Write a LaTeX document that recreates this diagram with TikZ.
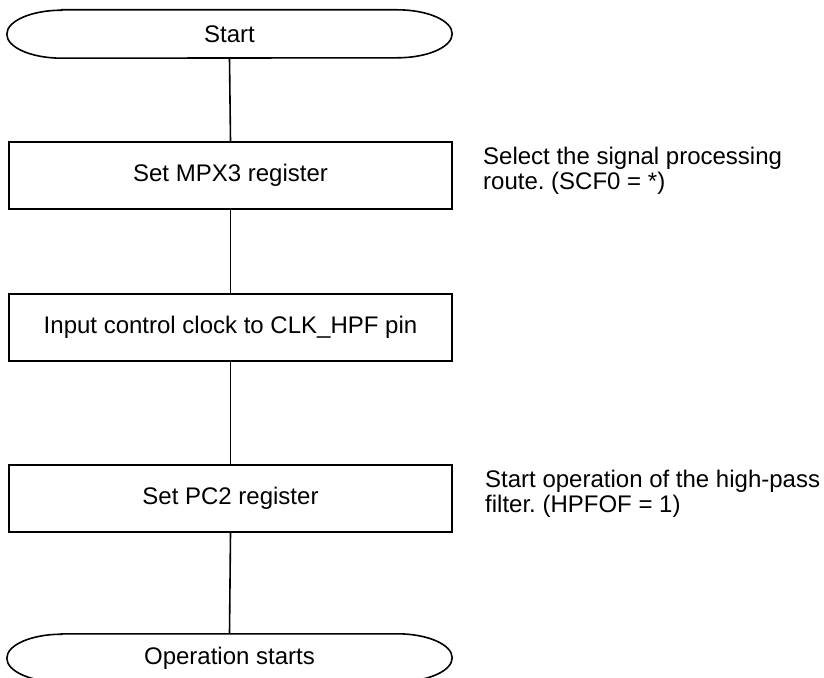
\documentclass[tikz,border=0pt]{standalone}
\usepackage{fontspec}
\setmainfont{Liberation Sans}
\frenchspacing
\begin{document}
\begin{tikzpicture}[x=1pt,y=-1pt,
  every node/.style={font=\fontsize{24}{25}\selectfont},
  lw/.style={line width=1.6pt},
  procbox/.style={draw,lw,minimum width=443pt,minimum height=67pt,inner sep=0pt},
  termbox/.style={minimum width=445pt,minimum height=48pt,inner sep=0pt},
  note/.style={anchor=base west,inner sep=0pt}
]
\useasboundingbox (0,0) rectangle (824,677);
\clip (0,0) rectangle (824,677);
\fill[white] (0,0) rectangle (824,677);

\node[termbox] (start) at (229.5,34) {Start};
\node[procbox] (b1) at (230.5,175.5) {Set MPX3 register};
\node[procbox] (b2) at (230.5,327.5) {Input control clock to CLK\_HPF pin};
\node[procbox] (b3) at (230.5,498.5) {Set PC2 register};
\node[termbox] (end) at (229.5,658) {Operation starts};

\foreach \t in {start,end}{
  \draw[lw] ([xshift=55pt]\t.north west) -- ([xshift=-55pt]\t.north east)
    arc[start angle=90,end angle=-90,x radius=55pt,y radius=24pt]
    -- ([xshift=55pt]\t.south west)
    arc[start angle=270,end angle=90,x radius=55pt,y radius=24pt] -- cycle;
}

\draw[lw] (start.south) -- (b1.north);
\draw[lw] (b1.south) -- (b2.north);
\draw[lw] (b2.south) -- (b3.north);
\draw[lw] (b3.south) -- (end.north);

\node[note] (n1) at (483,164.5) {\begin{tabular}[t]{@{}l@{}}Select the signal processing\\ route. (SCF0 = *)\end{tabular}};
\node[note] (n2) at (485,487.5) {\begin{tabular}[t]{@{}l@{}}Start operation of the high-pass\\ filter. (HPFOF = 1)\end{tabular}};
\end{tikzpicture}
\end{document}
